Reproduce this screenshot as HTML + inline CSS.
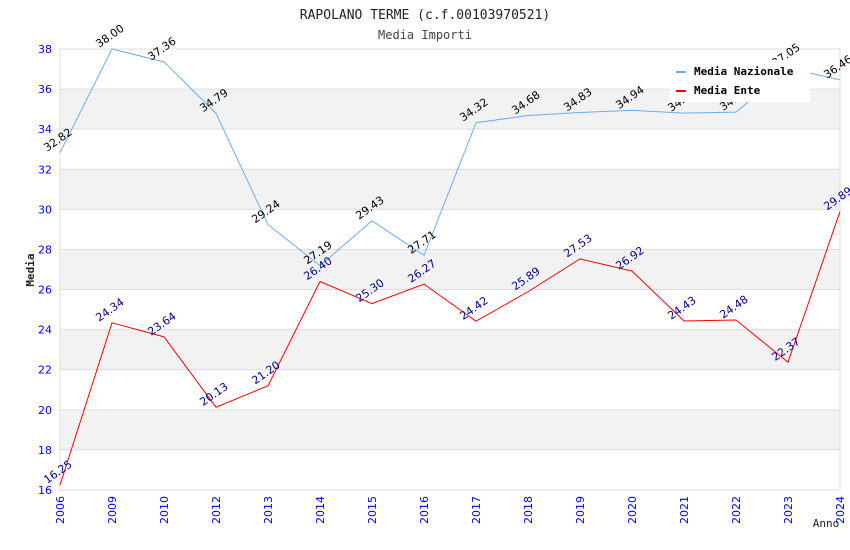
<!DOCTYPE html>
<html><head><meta charset="utf-8"><style>
body{margin:0;background:#fff;}
svg{display:block;font-family:"DejaVu Sans","Liberation Sans",sans-serif;}
.mono{font-family:"DejaVu Sans Mono","Liberation Mono",monospace;}
</style></head><body>
<svg id="chart" width="850" height="550">
<text class="mono" x="425" y="19" text-anchor="middle" font-size="13" fill="#222">RAPOLANO TERME (c.f.00103970521)</text>
<text class="mono" x="425" y="39" text-anchor="middle" font-size="12" fill="#444">Media Importi</text>
<g id="grid"></g><g id="series"></g><g id="labels"></g>
<text class="mono" x="34" y="270" text-anchor="middle" font-size="11" font-weight="bold" fill="#222" transform="rotate(-90 34 270)">Media</text>
<text class="mono" x="826" y="527" text-anchor="middle" font-size="11" fill="#222">Anno</text>
<g>
<rect x="670" y="60" width="140" height="42" fill="#fff"/>
<rect x="676" y="71" width="10" height="2" fill="#6aaef0"/>
<text class="mono" x="694" y="75" font-size="11" font-weight="bold" fill="#000">Media Nazionale</text>
<rect x="676" y="90" width="10" height="2" fill="#f00"/>
<text class="mono" x="694" y="94" font-size="11" font-weight="bold" fill="#000">Media Ente</text>
</g>
</svg>
<script>
const categories=["2006","2009","2010","2012","2013","2014","2015","2016","2017","2018","2019","2020","2021","2022","2023","2024"];
const nazionale=[32.82,38.00,37.36,34.79,29.24,27.19,29.43,27.71,34.32,34.68,34.83,34.94,34.80,34.85,37.05,36.46];
const ente=[16.25,24.34,23.64,20.13,21.20,26.40,25.30,26.27,24.42,25.89,27.53,26.92,24.43,24.48,22.37,29.89];
const yTicks=[16,18,20,22,24,26,28,30,32,34,36,38];
const NS="http://www.w3.org/2000/svg";
const L=60,R=840,T=49,B=490,yMin=16,yMax=38;
const x=i=>L+i*(R-L)/(categories.length-1);
const y=v=>B-(v-yMin)*(B-T)/(yMax-yMin);
function mk(tag,attrs,parent){const e=document.createElementNS(NS,tag);for(const k in attrs)e.setAttribute(k,attrs[k]);document.getElementById(parent).appendChild(e);return e;}
for(let i=0;i<yTicks.length-1;i++){
  if(i%2===1){const b=mk('rect',{x:L,y:y(yTicks[i+1]),width:R-L,height:y(yTicks[i])-y(yTicks[i+1]),fill:'#f2f2f2'},'grid');
  
  }
}
yTicks.forEach(t=>{
  const l=mk('line',{x1:L,x2:R,y1:y(t),y2:y(t),stroke:'#ddd'},'grid');
  
  
  const tx=mk('text',{x:L-8,y:y(t)+4,'text-anchor':'end','font-size':11,fill:'#00f'},'grid');
  tx.textContent=t;
  
  
});
const fr=mk('rect',{x:L,y:T,width:R-L,height:B-T,fill:'none',stroke:'#ddd'},'grid');


categories.forEach((c,i)=>{
  const tx=mk('text',{x:x(i)+4,y:B+6,'text-anchor':'end','font-size':11,fill:'#00f',transform:`rotate(-90 ${x(i)+4} ${B+6})`},'grid');
  tx.textContent=c;
  
  
});
function series(data,color,lblColor,name){
  const p=mk('polyline',{points:data.map((v,i)=>x(i)+','+y(v)).join(' '),fill:'none',stroke:color,'stroke-width':1},'series');
  
  
  data.forEach((v,i)=>{
    const ly=y(v)-10;
    const tx=mk('text',{x:x(i),y:ly,'text-anchor':'middle','font-size':11,fill:lblColor,transform:`rotate(-35 ${x(i)} ${ly})`},'labels');
    tx.textContent=v.toFixed(2);
    
    
  });
}
series(nazionale,'#6aaef0','#000','nazionale');
series(ente,'#f00','#00008b','ente');
</script>
</body></html>
